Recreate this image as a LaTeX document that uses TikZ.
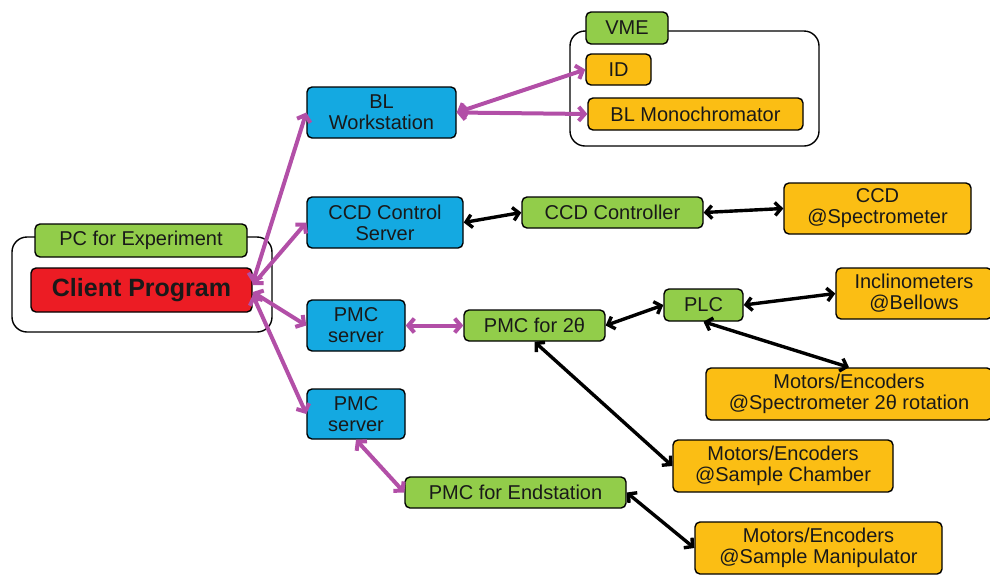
\documentclass[tikz,border=0pt]{standalone}
\usepackage{fontspec}
\setmainfont{Liberation Sans}
\usetikzlibrary{arrows.meta}
\definecolor{boxblue}{HTML}{14A9E1}
\definecolor{boxgreen}{HTML}{92CD4A}
\definecolor{boxorange}{HTML}{FBBE14}
\definecolor{boxred}{HTML}{EC1C24}
\definecolor{linkmag}{HTML}{B24FA7}
\tikzset{
  box/.style={draw=black, line width=1.4pt, rounded corners=5pt, inner sep=0pt,
    align=center, text=black!90, font=\fontsize{20}{21}\selectfont},
  group/.style={draw=black, line width=1.4pt, rounded corners=15pt, fill=white},
  blue box/.style={box, fill=boxblue},
  green box/.style={box, fill=boxgreen},
  orange box/.style={box, fill=boxorange},
  red box/.style={box, fill=boxred},
  net/.style={linkmag, line width=4pt, {Straight Barb[length=6pt,width=14pt]}-{Straight Barb[length=6pt,width=14pt]}},
  bus/.style={black, line width=3.4pt, {Straight Barb[length=6pt,width=13pt]}-{Straight Barb[length=6pt,width=13pt]}}
}
\begin{document}
\begin{tikzpicture}[x=1pt,y=-1pt]
    \useasboundingbox (0,0) rectangle (990,574);
    % containers
    \node[group, minimum width=260pt, minimum height=95pt] (pc) at (142,284.5) {};
    \node[group, minimum width=249pt, minimum height=115pt] (vmegrp) at (694.5,88.5) {};
	\node[green box, minimum width=212pt, minimum height=33pt] (pcexp) at (141,240.5) {PC for Experiment};
	\node[red box, minimum width=221pt, minimum height=44pt, font=\fontsize{25}{26}\selectfont\bfseries] (client) at (141.5,290) {Client Program};
	\node[green box, minimum width=82pt, minimum height=32pt] (vme) at (627,28) {VME};
	\node[orange box, minimum width=65pt, minimum height=31pt] (id) at (618.5,69.5) {ID};
	\node[orange box, minimum width=215pt, minimum height=32pt] (mono) at (695.5,114) {BL Monochromator};
	% servers
	\node[blue box, minimum width=149pt, minimum height=51pt] (blws) at (381.5,112.5) {BL\\Workstation};
	\node[blue box, minimum width=156pt, minimum height=51pt] (ccdsrv) at (385,222.5) {CCD Control\\Server};
	\node[blue box, minimum width=98pt, minimum height=51pt] (pmca) at (356,325.5) {PMC\\server};
	\node[blue box, minimum width=98pt, minimum height=50pt] (pmcb) at (356,414) {PMC\\server};
	% controllers
	\node[green box, minimum width=181pt, minimum height=31pt] (ccdctl) at (612.5,212.5) {CCD Controller};
	\node[green box, minimum width=141pt, minimum height=31pt] (pmctt) at (534.5,325.5) {PMC for 2θ};
	\node[green box, minimum width=79pt, minimum height=32pt] (plc) at (703.5,305) {PLC};
	\node[green box, minimum width=221pt, minimum height=31pt] (pmcend) at (515.5,492.5) {PMC for Endstation};
	% devices
	\node[orange box, minimum width=187pt, minimum height=51pt] (ccd) at (877.5,208.5) {CCD\\@Spectrometer};
	\node[orange box, minimum width=156pt, minimum height=51pt] (incl) at (914,293.5) {Inclinometers\\@Bellows};
	\node[orange box, minimum width=286pt, minimum height=52pt] (motspec) at (849,394) {Motors/Encoders\\@Spectrometer 2θ rotation};
	\node[orange box, minimum width=220pt, minimum height=52pt] (motcham) at (783,466) {Motors/Encoders\\@Sample Chamber};
	\node[orange box, minimum width=247pt, minimum height=52pt] (motman) at (818.5,548) {Motors/Encoders\\@Sample Manipulator};
	% links
	\draw[net] ([yshift=7pt]client.east) -- (blws.west);
	\draw[net] ([yshift=5pt]client.east) -- (ccdsrv.west);
	\draw[net] ([yshift=-2pt]client.east) -- (pmca.west);
	\draw[net] ([yshift=-5pt]client.east) -- (pmcb.west);
	\draw[net] (blws.east) -- (id.west);
	\draw[net] (blws.east) -- (mono.west);
	\draw[net] (pmca.east) -- (pmctt.west);
	\draw[net] (pmcb.south) -- (pmcend.west);
	\draw[bus] (ccdsrv.east) -- (ccdctl.west);
	\draw[bus] (ccdctl.east) -- (ccd.west);
	\draw[bus] (pmctt.east) -- (plc.west);
	\draw[bus] (plc.east) -- (incl.west);
	\draw[bus] (plc.south) -- (motspec.north);
	\draw[bus] (pmctt.south) -- (motcham.west);
	\draw[bus] (pmcend.east) -- (motman.west);
\end{tikzpicture}
\end{document}
